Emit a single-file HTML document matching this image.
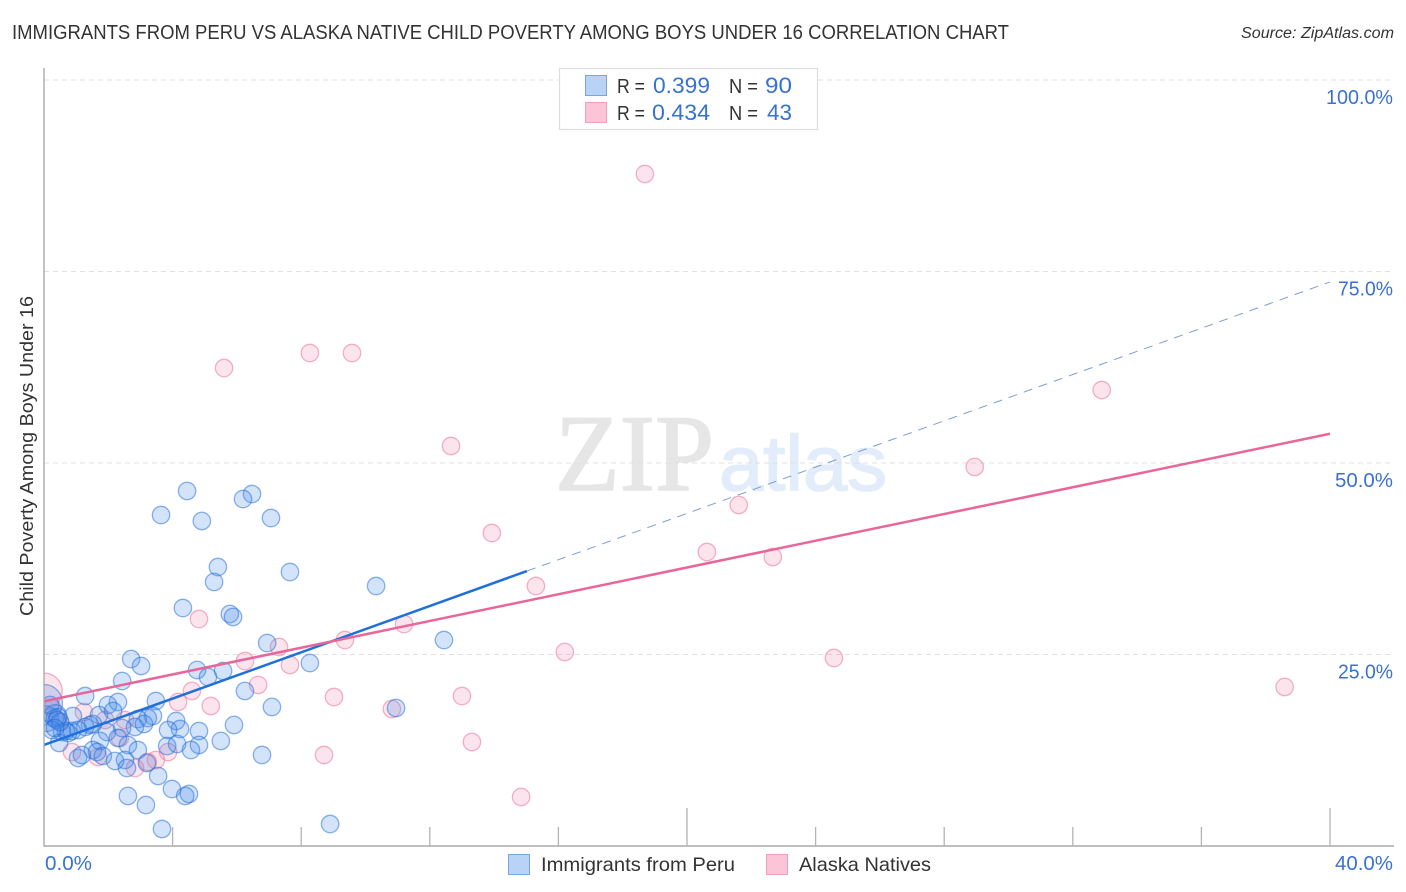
<!DOCTYPE html>
<html lang="en">
<head>
<meta charset="utf-8">
<title>Immigrants from Peru vs Alaska Native Child Poverty Chart</title>
<style>
  html, body { margin: 0; padding: 0; background: #fff; }
  body { width: 1406px; height: 892px; overflow: hidden; }
  svg { display: block; font-family: "Liberation Sans", sans-serif; }
</style>
</head>
<body>
<svg id="chart" xmlns="http://www.w3.org/2000/svg" width="1406" height="892" viewBox="0 0 1406 892">
  <rect x="0" y="0" width="1406" height="892" fill="#ffffff"/>
  <text x="12" y="39" font-size="20" fill="#333333" textLength="997" lengthAdjust="spacingAndGlyphs">IMMIGRANTS FROM PERU VS ALASKA NATIVE CHILD POVERTY AMONG BOYS UNDER 16 CORRELATION CHART</text>
  <text x="1241" y="38" font-size="15.5" font-style="italic" fill="#333333" textLength="153" lengthAdjust="spacingAndGlyphs">Source: ZipAtlas.com</text>
  <g>
    <text x="555" y="490" font-family="'Liberation Serif', serif" font-size="109" fill="#e6e6e6" stroke="#e6e6e6" stroke-width="1.6" textLength="159" lengthAdjust="spacingAndGlyphs">ZIP</text>
    <text x="719" y="490" font-size="78" fill="#e2ecfa" stroke="#e2ecfa" stroke-width="1.5" textLength="168" lengthAdjust="spacingAndGlyphs">atlas</text>
  </g>
  <g id="grid"></g>
  <g id="points"></g>
  <rect x="0" y="60" width="44" height="800" fill="#ffffff"/>
  <g id="trends"></g>
  <g id="axes"></g>
  <text transform="translate(33,456) rotate(-90)" text-anchor="middle" font-size="18" fill="#333333" textLength="320" lengthAdjust="spacingAndGlyphs">Child Poverty Among Boys Under 16</text>

  <g>
    <rect x="559.5" y="68.5" width="258" height="61" fill="#ffffff" stroke="#dddddd" stroke-width="1.2"/>
    <rect x="585.5" y="75.5" width="21" height="20" fill="#b9d3f7" stroke="#7ba6dc" stroke-width="1"/>
    <rect x="585.5" y="102.5" width="21" height="20" fill="#fbc5d7" stroke="#f0a0b9" stroke-width="1"/>
    <text x="617" y="93" font-size="20" fill="#333333" textLength="28" lengthAdjust="spacingAndGlyphs">R =</text>
    <text x="653" y="93" font-size="22" fill="#3572d2" textLength="57" lengthAdjust="spacingAndGlyphs">0.399</text>
    <text x="729" y="93" font-size="20" fill="#333333" textLength="29" lengthAdjust="spacingAndGlyphs">N =</text>
    <text x="765" y="93" font-size="22" fill="#3572d2" textLength="27" lengthAdjust="spacingAndGlyphs">90</text>
    <text x="617" y="120" font-size="20" fill="#333333" textLength="28" lengthAdjust="spacingAndGlyphs">R =</text>
    <text x="652" y="120" font-size="22" fill="#3572d2" textLength="58" lengthAdjust="spacingAndGlyphs">0.434</text>
    <text x="729" y="120" font-size="20" fill="#333333" textLength="29" lengthAdjust="spacingAndGlyphs">N =</text>
    <text x="767" y="120" font-size="22" fill="#3572d2" textLength="25" lengthAdjust="spacingAndGlyphs">43</text>
  </g>

  <g>
    <rect x="508.5" y="854.5" width="21" height="20" fill="#b9d3f7" stroke="#7ba6dc" stroke-width="1"/>
    <text x="541" y="871" font-size="19.5" fill="#333333" textLength="194" lengthAdjust="spacingAndGlyphs">Immigrants from Peru</text>
    <rect x="766.5" y="854.5" width="21" height="20" fill="#fbc5d7" stroke="#f0a0b9" stroke-width="1"/>
    <text x="799" y="871" font-size="19.5" fill="#333333" textLength="132" lengthAdjust="spacingAndGlyphs">Alaska Natives</text>
  </g>
</svg>
<script>
const yTickValues = [25, 50, 75, 100];
const yTickLabels = ['25.0%', '50.0%', '75.0%', '100.0%'];
const xTickValues = [0, 4, 8, 12, 16, 20, 24, 28, 32, 36, 40];
const xMajorTicks = [20, 40];
const xEndValues = [0, 40];
const xEndLabels = ['0.0%', '40.0%'];

const peruX = [3.64,4.45,6.47,6.19,4.91,7.06,5.41,5.29,7.65,10.33,4.32,5.78,5.88,6.94,12.44,2.71,3.02,8.27,4.76,5.57,5.10,2.43,6.25,1.28,3.48,2.30,1.99,10.95,7.09,1.71,2.15,0.90,3.39,3.23,2.92,4.11,5.91,2.83,3.11,4.23,3.86,4.82,2.43,1.43,1.28,1.96,1.52,2.30,0.87,1.06,0.56,0.68,0.75,0.34,0.19,0.40,0.50,0.44,0.25,0.34,0.47,1.74,2.61,2.92,3.83,4.14,4.82,4.57,5.50,6.78,1.52,1.65,1.83,2.52,2.21,2.58,1.06,1.18,3.20,3.55,3.98,2.61,3.17,4.51,4.39,3.67,8.90];
const peruY = [43.21,46.35,45.95,45.30,42.43,42.82,36.42,34.47,35.77,33.94,31.07,30.29,29.90,26.50,26.89,24.41,23.50,23.89,22.98,22.85,22.06,21.54,20.24,19.58,18.93,18.80,18.41,18.02,18.15,17.10,17.62,16.97,16.97,16.71,16.58,16.32,15.80,15.54,15.93,15.27,15.14,15.01,15.40,15.80,15.54,14.88,15.93,14.10,15.01,15.14,14.88,15.01,14.75,16.71,18.41,16.45,16.19,16.84,15.14,15.40,13.45,13.71,13.19,12.53,13.05,13.32,13.19,12.53,13.71,11.88,12.53,12.27,11.75,11.23,11.10,10.18,11.49,11.88,10.84,9.14,7.44,6.53,5.35,6.79,6.53,2.22,2.87];
const peruWeightedX = [0.0, 0.05, 0.35];
const peruWeightedY = [18.67, 16.6, 16.97];
const peruWeights = [4.5, 2.2, 1.7];

const alaskaX = [18.69,5.60,8.27,9.58,32.90,12.66,28.95,21.61,13.93,20.62,22.67,15.30,4.82,11.20,7.31,9.36,16.20,6.25,24.57,7.65,6.66,4.60,4.17,9.02,13.00,38.59,10.82,5.19,13.31,8.71,14.84,3.86,3.48,3.23,2.83,1.68,0.87,2.52,1.24,1.90,2.36,0.50,0.25];
const alaskaY = [87.73,62.40,64.36,64.36,59.53,52.22,49.48,44.52,40.86,38.38,37.73,33.94,29.63,28.98,25.98,26.89,25.33,24.15,24.54,23.63,21.02,20.24,18.80,19.45,19.58,20.76,17.89,18.28,13.58,11.88,6.40,12.27,11.23,10.97,10.18,11.62,12.27,16.45,17.49,16.45,14.10,16.19,18.02];
const alaskaWeightedX = [0.0];
const alaskaWeightedY = [20.2];
const alaskaWeights = [4.4];

const peruTrendIntercept = 13.2;
const peruTrendSlope = 1.511;
const peruTrendSolidEnd = 15.02;
const peruTrendDashEnd = 40;
const alaskaTrendIntercept = 18.9;
const alaskaTrendSlope = 0.873;
const alaskaTrendEnd = 40;

const NS = 'http://www.w3.org/2000/svg';
const xScale = v => 44 + v * 32.15;
const yScale = v => 846 - v * 7.66;
const baseRadius = 8.7;

function make(tag, attrs, parent) {
  const el = document.createElementNS(NS, tag);
  Object.keys(attrs).forEach(k => el.setAttribute(k, attrs[k]));
  parent.appendChild(el);
  return el;
}

const grid = document.getElementById('grid');
yTickValues.forEach(v => {
  const line = make('line', {x1: 44, x2: 1394, y1: yScale(v), y2: yScale(v), stroke: '#e0e0e0', 'stroke-width': 1, 'stroke-dasharray': '5 4'}, grid);
  
  
});

const points = document.getElementById('points');
function drawPoint(xv, yv, weight, fill, stroke, name) {
  const c = make('circle', {cx: xScale(xv), cy: yScale(yv), r: baseRadius * Math.sqrt(weight), fill: fill, stroke: stroke, 'stroke-width': 1.3}, points);
  
  
}
const pinkFill = 'rgba(243,130,168,0.22)';
const pinkStroke = 'rgba(232,110,150,0.52)';
const blueFill = 'rgba(70,140,235,0.24)';
const blueStroke = 'rgba(35,110,215,0.52)';
alaskaWeightedX.forEach((x, i) => drawPoint(x, alaskaWeightedY[i], alaskaWeights[i], pinkFill, pinkStroke, 'alaska-natives-large-point'));
alaskaX.forEach((x, i) => drawPoint(x, alaskaY[i], 1, pinkFill, pinkStroke, 'alaska-natives-point'));
peruWeightedX.forEach((x, i) => drawPoint(x, peruWeightedY[i], peruWeights[i], blueFill, blueStroke, 'immigrants-peru-large-point'));
peruX.forEach((x, i) => drawPoint(x, peruY[i], 1, blueFill, blueStroke, 'immigrants-peru-point'));

const trends = document.getElementById('trends');
const peruSolid = make('line', {x1: xScale(0), y1: yScale(peruTrendIntercept), x2: xScale(peruTrendSolidEnd), y2: yScale(peruTrendIntercept + peruTrendSlope * peruTrendSolidEnd), stroke: '#2070dc', 'stroke-width': 2.5}, trends);


const peruDash = make('line', {x1: xScale(peruTrendSolidEnd), y1: yScale(peruTrendIntercept + peruTrendSlope * peruTrendSolidEnd), x2: xScale(peruTrendDashEnd), y2: yScale(peruTrendIntercept + peruTrendSlope * peruTrendDashEnd), stroke: '#7a9fd2', 'stroke-width': 1, 'stroke-dasharray': '9 7'}, trends);


const alaskaLine = make('line', {x1: xScale(0), y1: yScale(alaskaTrendIntercept), x2: xScale(alaskaTrendEnd), y2: yScale(alaskaTrendIntercept + alaskaTrendSlope * alaskaTrendEnd), stroke: '#e8669a', 'stroke-width': 2.5}, trends);



const axes = document.getElementById('axes');
const yAxis = make('line', {x1: 44, x2: 44, y1: 68, y2: 846.7, stroke: '#aaaaaa', 'stroke-width': 1.4}, axes);


const xAxis = make('line', {x1: 44, x2: 1394, y1: 846, y2: 846, stroke: '#aaaaaa', 'stroke-width': 1.4}, axes);


xTickValues.forEach(v => {
  if (v === 0) return;
  const top = xMajorTicks.includes(v) ? 808 : 827;
  const tick = make('line', {x1: xScale(v), x2: xScale(v), y1: top, y2: 846, stroke: '#b4b4b4', 'stroke-width': 1.3}, axes);
  
  
});
const yLabelWidths = {'25.0%': 55, '50.0%': 58, '75.0%': 55, '100.0%': 67};
yTickValues.forEach((v, i) => {
  const t = make('text', {x: 1393, y: yScale(v) + 24, 'text-anchor': 'end', 'font-size': 20, fill: '#3a72d2', textLength: yLabelWidths[yTickLabels[i]], lengthAdjust: 'spacingAndGlyphs'}, axes);
  t.textContent = yTickLabels[i];
  
  
});
xEndValues.forEach((v, i) => {
  const t = make('text', {x: i === 0 ? xScale(v) + 1 : 1393, y: 870, 'text-anchor': i === 0 ? 'start' : 'end', 'font-size': 20, fill: '#3a72d2', textLength: i === 0 ? 47 : 58, lengthAdjust: 'spacingAndGlyphs'}, axes);
  t.textContent = xEndLabels[i];
  
  
});
</script>
</body>
</html>
